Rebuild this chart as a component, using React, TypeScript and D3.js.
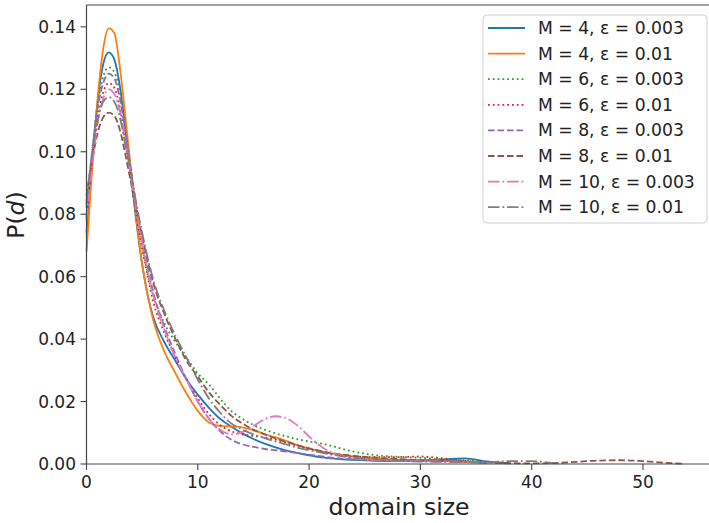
import React from "react";
import * as d3 from "d3";

const X = [0, 0.5, 1, 1.5, 2, 2.5, 3, 3.5, 4, 4.5, 5, 5.5, 6, 7, 8, 9, 10, 11, 12, 13, 14, 15, 16, 17, 18, 19, 20, 21, 22, 23, 24, 26, 28, 30, 32, 34, 36, 38, 40, 42, 44, 46, 48, 50, 52, 53.5];

const M4_E003 = [0.074, 0.097, 0.116, 0.128, 0.1318, 0.1295, 0.121, 0.107, 0.092, 0.077, 0.064, 0.054, 0.047, 0.039, 0.033, 0.027, 0.0222, 0.018, 0.0145, 0.012, 0.0098, 0.008, 0.0065, 0.0053, 0.0043, 0.0035, 0.0028, 0.0022, 0.0018, 0.0015, 0.0013, 0.001, 0.0009, 0.001, 0.0015, 0.0018, 0.0008, 0.0002, null, null, null, null, null, null, null, null];
const M4_E01 = [0.068, 0.094, 0.117, 0.133, 0.1395, 0.138, 0.127, 0.111, 0.094, 0.078, 0.064, 0.054, 0.046, 0.036, 0.029, 0.0225, 0.017, 0.0133, 0.0122, 0.012, 0.0117, 0.0108, 0.0096, 0.0085, 0.0073, 0.006, 0.005, 0.0041, 0.0034, 0.0028, 0.0023, 0.0017, 0.0014, 0.0012, 0.001, 0.0008, 0.0003, null, null, null, null, null, null, null, null, null];
const M6_E003 = [0.082, 0.1, 0.115, 0.124, 0.127, 0.1255, 0.119, 0.107, 0.094, 0.081, 0.07, 0.061, 0.054, 0.045, 0.039, 0.034, 0.029, 0.0255, 0.021, 0.017, 0.0145, 0.0125, 0.011, 0.0098, 0.0088, 0.0079, 0.0072, 0.0066, 0.0058, 0.0048, 0.004, 0.0028, 0.0023, 0.002, 0.0015, 0.0012, 0.0007, 0.0002, null, null, null, null, null, null, null, null];
const M6_E01 = [0.079, 0.097, 0.111, 0.119, 0.122, 0.1205, 0.114, 0.103, 0.091, 0.079, 0.069, 0.06, 0.052, 0.042, 0.034, 0.027, 0.021, 0.016, 0.0125, 0.0105, 0.0095, 0.009, 0.0085, 0.0078, 0.0068, 0.0058, 0.0048, 0.004, 0.0032, 0.0027, 0.0024, 0.0022, 0.0022, 0.0024, 0.0018, 0.001, 0.0004, null, null, null, null, null, null, null, null, null];
const M8_E003 = [0.083, 0.1, 0.114, 0.122, 0.125, 0.1235, 0.117, 0.106, 0.094, 0.082, 0.072, 0.063, 0.055, 0.044, 0.035, 0.027, 0.02, 0.0145, 0.0105, 0.0078, 0.0063, 0.0055, 0.0048, 0.0044, 0.004, 0.0035, 0.003, 0.0025, 0.002, 0.0017, 0.0015, 0.0012, 0.0011, 0.0012, 0.001, 0.0007, 0.0003, null, null, null, null, null, null, null, null, null];
const M8_E01 = [0.086, 0.097, 0.106, 0.111, 0.1125, 0.1115, 0.107, 0.099, 0.09, 0.081, 0.073, 0.065, 0.058, 0.048, 0.04, 0.033, 0.028, 0.023, 0.019, 0.0155, 0.013, 0.011, 0.0095, 0.0082, 0.007, 0.006, 0.005, 0.0042, 0.0035, 0.003, 0.0026, 0.002, 0.0016, 0.0012, 0.001, 0.0008, 0.0005, 0.0003, 0.0002, 0.0003, 0.0007, 0.0011, 0.0012, 0.0009, 0.0004, 0.0001];
const M10_E003 = [0.078, 0.095, 0.109, 0.117, 0.12, 0.1185, 0.113, 0.103, 0.092, 0.081, 0.071, 0.062, 0.054, 0.043, 0.034, 0.027, 0.02, 0.0145, 0.011, 0.0095, 0.0102, 0.0122, 0.0143, 0.0153, 0.0146, 0.0122, 0.0088, 0.0058, 0.0037, 0.0025, 0.0018, 0.0013, 0.001, 0.0009, 0.0008, 0.0006, 0.0004, null, null, null, null, null, null, null, null, null];
const M10_E01 = [0.084, 0.099, 0.11, 0.116, 0.1175, 0.116, 0.111, 0.102, 0.093, 0.083, 0.074, 0.066, 0.059, 0.049, 0.041, 0.034, 0.027, 0.021, 0.0165, 0.013, 0.011, 0.0095, 0.0083, 0.0072, 0.0062, 0.0052, 0.0044, 0.0037, 0.003, 0.0025, 0.002, 0.0014, 0.001, 0.0008, 0.0007, 0.0006, 0.0006, 0.0009, 0.0009, 0.0002, null, null, null, null, null, null];

const LABELS = [
  "M = 4, ε = 0.003",
  "M = 4, ε = 0.01",
  "M = 6, ε = 0.003",
  "M = 6, ε = 0.01",
  "M = 8, ε = 0.003",
  "M = 8, ε = 0.01",
  "M = 10, ε = 0.003",
  "M = 10, ε = 0.01",
];
const SERIES = [M4_E003, M4_E01, M6_E003, M6_E01, M8_E003, M8_E01, M10_E003, M10_E01];
const COLORS = ["#1f77b4", "#ff7f0e", "#2ca02c", "#d62728", "#9467bd", "#8c564b", "#e377c2", "#7f7f7f"];
const DASHES = ["", "", "1.8,3", "1.8,3", "6.6,2.9", "6.6,2.9", "11.5,2.9,1.8,2.9", "11.5,2.9,1.8,2.9"];

const X_TICKS = [0, 10, 20, 30, 40, 50];
const Y_TICKS = [0, 0.02, 0.04, 0.06, 0.08, 0.1, 0.12, 0.14];

const W = 709;
const H = 523;
const FONT = "DejaVu Sans, sans-serif";

export default function App() {
  const x = d3.scaleLinear().domain([0, 56.2]).range([86.5, 712]);
  const y = d3.scaleLinear().domain([0, 0.147]).range([464, 5]);
  const line = d3
    .line<[number, number | null]>()
    .defined((d) => d[1] !== null)
    .x((d) => x(d[0]))
    .y((d) => y(d[1] as number))
    .curve(d3.curveMonotoneX);

  const legendX = 483;
  const legendY = 15;
  const rowH = 25.6;

  return (
    <svg
      width={W}
      height={H}
      style={{ position: "absolute", left: 0, top: 0, background: "#fff" }}
      fontFamily={FONT}
    >
      <rect x={0} y={0} width={W} height={H} fill="#fff" />
      <g>
        {SERIES.map((s, i) => (
          <path
            key={i}
            d={line(X.map((xv, j) => [xv, s[j]] as [number, number | null])) || ""}
            fill="none"
            stroke={COLORS[i]}
            strokeWidth={1.8}
            strokeDasharray={DASHES[i] || undefined}
          />
        ))}
      </g>
      {/* spines */}
      <line x1={86.5} x2={712} y1={5} y2={5} stroke="#444" strokeWidth={1.2} />
      <line x1={86.5} x2={712} y1={464} y2={464} stroke="#444" strokeWidth={1.2} />
      <line x1={86.5} x2={86.5} y1={5} y2={464} stroke="#444" strokeWidth={1.2} />
      {/* x ticks */}
      {X_TICKS.map((t) => (
        <g key={"x" + t}>
          <line x1={x(t)} x2={x(t)} y1={464} y2={470} stroke="#444" strokeWidth={1.1} />
          <text x={x(t)} y={488} fontSize={17} textAnchor="middle" fill="#222">
            {t}
          </text>
        </g>
      ))}
      {Y_TICKS.map((t) => (
        <g key={"y" + t}>
          <line x1={80.5} x2={86.5} y1={y(t)} y2={y(t)} stroke="#444" strokeWidth={1.1} />
          <text x={76} y={y(t) + 6} fontSize={17} textAnchor="end" fill="#222">
            {t.toFixed(2)}
          </text>
        </g>
      ))}
      <text x={399} y={515} fontSize={23.5} textAnchor="middle" fill="#222">
        domain size
      </text>
      <text
        transform={`translate(24,215) rotate(-90)`}
        fontSize={23.5}
        textAnchor="middle"
        fill="#222"
      >
        P(<tspan fontStyle="italic">d</tspan>)
      </text>
      {/* legend */}
      <rect
        x={legendX}
        y={legendY}
        width={224}
        height={208}
        rx={4}
        fill="#fff"
        fillOpacity={0.8}
        stroke="#d0d0d0"
        strokeWidth={1}
      />
      {LABELS.map((lab, i) => {
        const cy = 28 + i * rowH;
        return (
          <g key={lab}>
            <line
              x1={488}
              x2={525}
              y1={cy}
              y2={cy}
              stroke={COLORS[i]}
              strokeWidth={1.8}
              strokeDasharray={DASHES[i] || undefined}
            />
            <text x={538} y={cy + 6} fontSize={17.2} fill="#222">
              {lab}
            </text>
          </g>
        );
      })}
    </svg>
  );
}
